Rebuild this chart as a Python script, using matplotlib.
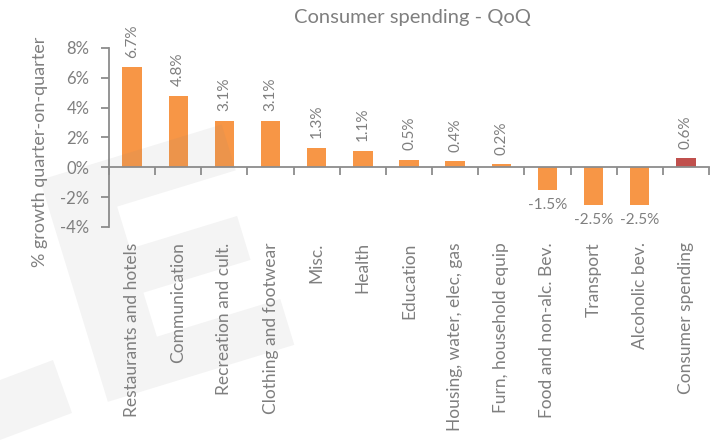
import numpy as np
import matplotlib
matplotlib.use("Agg")
import matplotlib.pyplot as plt
from matplotlib.patches import Polygon

plt.rcParams['font.family'] = ['Lato', 'DejaVu Sans']

categories = ["Restaurants and hotels", "Communication", "Recreation and cult.",
              "Clothing and footwear", "Misc.", "Health", "Education",
              "Housing, water, elec, gas", "Furn, household equip",
              "Food and non-alc. Bev.", "Transport", "Alcoholic bev.",
              "Consumer spending"]
growth = [6.7, 4.8, 3.1, 3.1, 1.3, 1.1, 0.5, 0.4, 0.2, -1.5, -2.5, -2.5, 0.6]
yticks = [-4, -2, 0, 2, 4, 6, 8]

text_col = "#7f7f7f"
axis_col = "#8c8c8c"
orange = "#f79646"
red = "#c0504d"

fig = plt.figure(figsize=(7.21, 4.45), dpi=100)
ax = fig.add_axes([109 / 721, 1 - 227 / 445, 600 / 721, 179 / 445])

x = np.arange(len(categories))
colors = [orange] * (len(categories) - 1) + [red]
ax.bar(x, growth, width=0.42, color=colors, zorder=2)

ax.set_xlim(-0.5, len(categories) - 0.5)
ax.set_ylim(-4, 8)
ax.set_yticks(yticks)
ax.set_yticklabels([f"{v}%" for v in yticks])

# category boundaries as downward ticks on the zero line
ax.set_xticks(np.arange(len(categories) + 1) - 0.5)
ax.set_xticklabels([])
ax.spines['bottom'].set_position(('data', 0))
for side in ['top', 'right']:
    ax.spines[side].set_visible(False)
for side in ['left', 'bottom']:
    ax.spines[side].set_color(axis_col)
    ax.spines[side].set_linewidth(1.3)
ax.tick_params(axis='x', direction='out', length=6, width=1.3, color=axis_col)
ax.tick_params(axis='y', direction='out', length=6, width=1.3, color=axis_col,
               labelcolor=text_col, labelsize=12, pad=8)

# category names under the plot
for i, name in enumerate(categories):
    ax.annotate(name, (i, -4), xytext=(0, -11), textcoords='offset points',
                rotation=90, ha='center', va='top', fontsize=12.5,
                color=text_col, annotation_clip=False)

# value labels
for i, v in enumerate(growth):
    if v >= 0:
        ax.annotate(f"{v:.1f}%", (i, v), xytext=(0, 7), textcoords='offset points',
                    rotation=90, ha='center', va='bottom', fontsize=11,
                    color=text_col)
    else:
        ax.annotate(f"{v:.1f}%", (i, v), xytext=(0, -6), textcoords='offset points',
                    ha='center', va='top', fontsize=11, color=text_col)

fig.text(412 / 721, 1 - 18 / 445, "Consumer spending - QoQ", ha='center',
         va='center', fontsize=14.5, color=text_col)
fig.text(40 / 721, 1 - 152 / 445, "% growth quarter-on-quarter", rotation=90,
         ha='center', va='center', fontsize=13, color=text_col)

# faint logo in the background
def to_fig(pts):
    return [(px / 721, 1 - py / 445) for px, py in pts]

th = np.deg2rad(17)
u = np.array([np.cos(th), -np.sin(th)])
v = np.array([np.sin(th), np.cos(th)])
origin = np.array([40, 180])
e_shape = [(0, 0), (190, 0), (190, 48), (66, 48), (66, 92), (178, 92),
           (178, 138), (66, 138), (66, 184), (195, 184), (195, 232), (0, 232)]
e_pts = [tuple(origin + a * u + b * v) for a, b in e_shape]
fig.patches.append(Polygon(to_fig(e_pts), closed=True, transform=fig.transFigure,
                           facecolor='gray', alpha=0.085, edgecolor='none', zorder=10))
piece = [(0, 380), (53, 360), (72, 413), (0, 440)]
fig.patches.append(Polygon(to_fig(piece), closed=True, transform=fig.transFigure,
                           facecolor='gray', alpha=0.085, edgecolor='none', zorder=10))

fig.savefig("out.png", dpi=100)
